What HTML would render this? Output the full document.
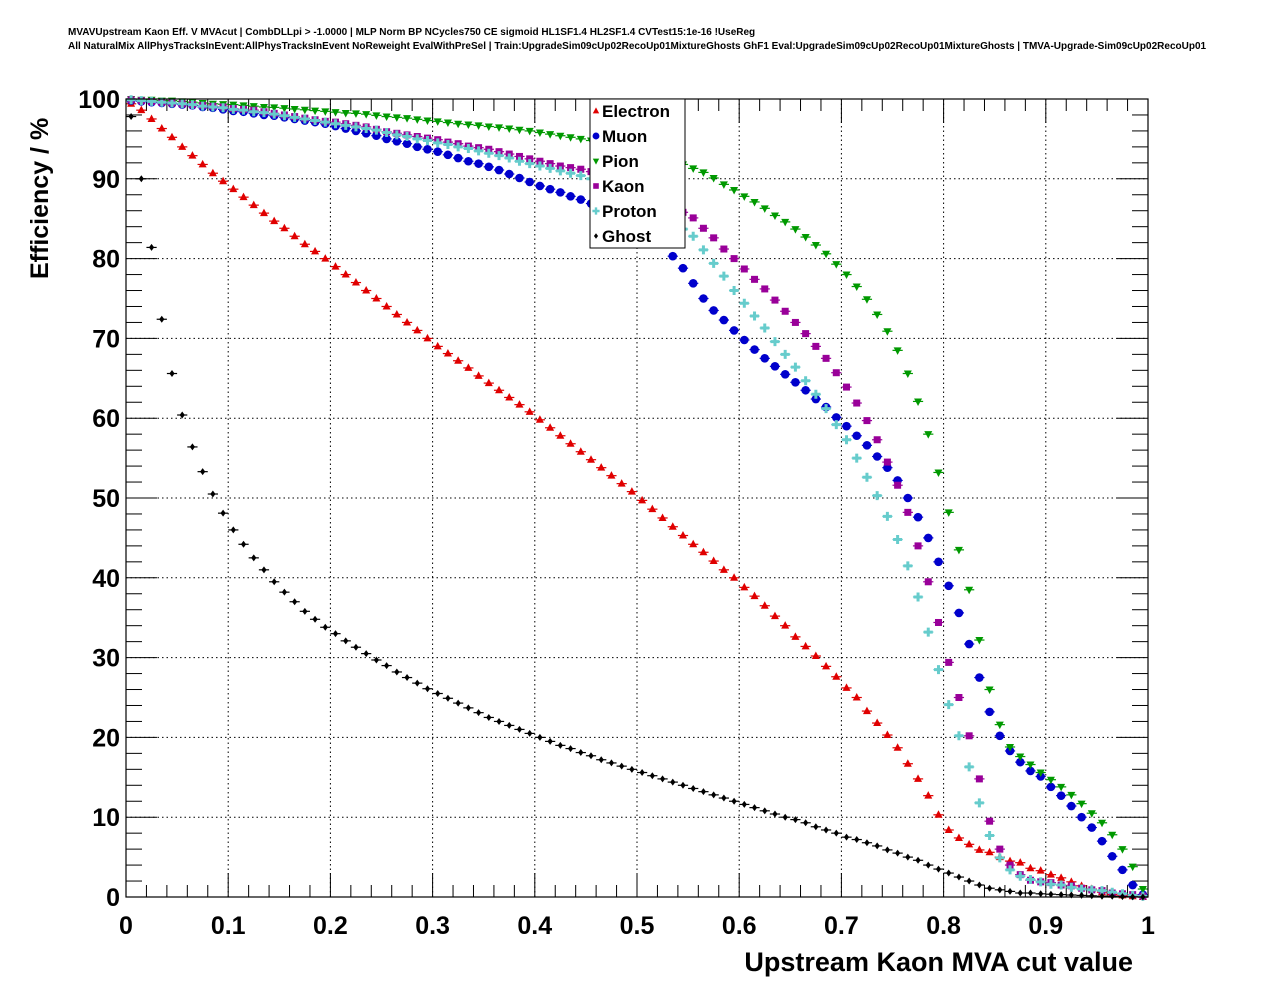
<!DOCTYPE html>
<html><head><meta charset="utf-8"><style>
body{margin:0;background:#fff;width:1276px;height:996px;overflow:hidden;font-family:"Liberation Sans",Arial,sans-serif}
svg text{font-family:"Liberation Sans",Arial,sans-serif}
</style></head><body>
<svg id="chart" width="1276" height="996" xmlns="http://www.w3.org/2000/svg">
<text x="68" y="35" font-size="10" font-weight="bold">MVAVUpstream Kaon Eff. V MVAcut | CombDLLpi &gt; -1.0000 | MLP Norm BP NCycles750 CE sigmoid HL1SF1.4 HL2SF1.4 CVTest15:1e-16 !UseReg</text>
<text x="68" y="49" font-size="10" font-weight="bold">All NaturalMix AllPhysTracksInEvent:AllPhysTracksInEvent NoReweight EvalWithPreSel | Train:UpgradeSim09cUp02RecoUp01MixtureGhosts GhF1 Eval:UpgradeSim09cUp02RecoUp01MixtureGhosts | TMVA-Upgrade-Sim09cUp02RecoUp01</text>
<g id="grid"></g>
<g id="ticks"></g>
<g id="marks"></g>
<rect x="126" y="99" width="1022" height="798" fill="none" stroke="#000" stroke-width="1.2"/>
<text x="1133" y="971" font-size="27" font-weight="bold" text-anchor="end">Upstream Kaon MVA cut value</text>
<text transform="translate(48,279) rotate(-90)" font-size="25" font-weight="bold">Efficiency / %</text>
<g id="legend">
<rect x="590" y="99" width="95" height="149" fill="#fff" stroke="#000" stroke-width="1"/>
</g>
</svg>
<script>
const xTicks=[0,0.1,0.2,0.3,0.4,0.5,0.6,0.7,0.8,0.9,1];
const xTickLabels=["0","0.1","0.2","0.3","0.4","0.5","0.6","0.7","0.8","0.9","1"];
const yTicks=[0,10,20,30,40,50,60,70,80,90,100];
const yTickLabels=["0","10","20","30","40","50","60","70","80","90","100"];
const seriesNames=["Electron","Muon","Pion","Kaon","Proton","Ghost"];
const electron=[99.4,98.6,97.5,96.3,95.2,94.0,92.9,91.8,90.7,89.7,
88.7,87.7,86.7,85.7,84.7,83.8,82.8,81.8,80.9,80.0,
79.0,78.0,77.0,76.0,75.0,74.0,73.0,72.0,71.0,70.0,
69.0,68.1,67.2,66.3,65.3,64.4,63.5,62.6,61.7,60.8,
59.8,58.8,57.8,56.8,55.8,54.8,53.8,52.8,51.8,50.8,
49.7,48.6,47.5,46.4,45.3,44.2,43.2,42.1,41.0,40.0,
38.8,37.7,36.5,35.2,34.0,32.6,31.4,30.2,28.9,27.6,
26.2,25.0,23.3,21.8,20.3,18.7,16.7,14.8,12.7,10.3,
8.4,7.4,6.6,5.9,5.6,5.0,4.5,4.3,3.6,3.3,
2.8,2.4,1.9,1.4,1.0,0.6,0.3,0.2,0.1,0.0];
const muon=[99.8,99.7,99.6,99.5,99.4,99.3,99.2,99.0,98.9,98.7,
98.5,98.4,98.2,98.0,97.9,97.7,97.5,97.3,97.1,96.9,
96.6,96.3,96.0,95.7,95.4,95.0,94.7,94.4,94.0,93.7,
93.4,93.0,92.6,92.2,91.9,91.5,91.1,90.6,90.1,89.6,
89.1,88.7,88.3,87.8,87.4,86.9,86.4,85.8,85.2,84.5,
83.8,83.0,82.1,80.3,78.8,76.9,75.0,73.5,72.3,71.0,
69.8,68.6,67.5,66.5,65.5,64.5,63.5,62.4,61.4,60.1,
59.0,57.8,56.6,55.2,53.8,52.2,50.0,47.6,45.0,42.0,
39.0,35.6,31.7,27.5,23.2,20.2,18.3,16.9,15.8,15.1,
13.8,12.7,11.4,10.0,8.7,7.0,5.1,3.4,1.5,0.3];
const pion=[100,99.9,99.9,99.8,99.8,99.7,99.6,99.5,99.4,99.35,
99.3,99.2,99.1,99.0,98.95,98.85,98.75,98.65,98.55,98.45,
98.35,98.25,98.2,98.1,97.95,97.8,97.7,97.6,97.45,97.3,
97.2,97.05,96.9,96.8,96.7,96.55,96.45,96.3,96.15,96.0,
95.8,95.6,95.4,95.2,95.0,94.8,94.6,94.4,94.2,94.0,
93.7,93.3,92.9,92.4,91.8,91.3,90.8,90.1,89.3,88.6,
87.8,87.1,86.3,85.4,84.6,83.7,82.7,81.7,80.6,79.3,
78.0,76.5,74.9,73.0,70.9,68.5,65.6,62.1,58.0,53.2,
48.2,43.5,38.5,32.2,26.0,21.6,18.8,17.6,16.6,15.6,
14.7,13.8,12.8,11.7,10.5,9.3,7.8,6.0,3.8,1.0];
const kaon=[99.9,99.8,99.7,99.6,99.5,99.4,99.3,99.2,99.1,99.0,
98.8,98.7,98.6,98.4,98.2,98.0,97.8,97.6,97.4,97.2,
97.1,96.9,96.7,96.5,96.2,95.9,95.7,95.5,95.3,95.1,
94.9,94.6,94.4,94.1,93.9,93.7,93.4,93.1,92.8,92.5,
92.2,91.9,91.6,91.4,91.2,90.9,90.5,90.1,89.6,89.1,
88.5,87.9,87.2,86.5,85.8,85.1,83.8,82.6,81.2,80.0,
78.7,77.4,76.2,74.8,73.4,72.0,70.6,69.0,67.5,65.7,
63.9,61.9,59.7,57.3,54.5,51.6,48.2,44.0,39.5,34.4,
29.4,25.0,20.2,14.8,9.5,6.0,4.0,2.8,2.1,1.9,
1.8,1.5,1.4,1.1,0.9,0.8,0.5,0.4,0.3,0.1];
const proton=[99.9,99.8,99.7,99.6,99.5,99.4,99.3,99.1,99.0,98.9,
98.7,98.6,98.4,98.3,98.1,97.9,97.7,97.5,97.3,97.1,
96.9,96.7,96.5,96.3,96.1,95.8,95.5,95.3,95.0,94.8,
94.5,94.3,94.0,93.8,93.5,93.2,92.9,92.6,92.2,91.9,
91.6,91.3,91.0,90.7,90.4,90.0,89.6,89.1,88.5,87.9,
87.1,86.3,85.5,84.6,83.7,82.8,81.1,79.4,77.8,76.0,
74.4,72.8,71.3,69.6,68.0,66.4,64.7,63.0,61.2,59.2,
57.3,55.0,52.6,50.3,47.7,44.8,41.5,37.6,33.2,28.5,
24.1,20.2,16.3,11.8,7.7,4.9,3.4,2.6,2.2,1.9,
1.6,1.5,1.2,1.0,0.9,0.8,0.6,0.4,0.2,0.1];
const ghost=[97.8,90.0,81.4,72.4,65.6,60.4,56.4,53.3,50.5,48.1,
46.0,44.2,42.5,41.0,39.5,38.2,37.0,35.8,34.8,33.8,
33.0,32.1,31.3,30.5,29.7,29.0,28.2,27.5,26.8,26.1,
25.5,24.9,24.3,23.7,23.1,22.5,22.0,21.5,21.0,20.5,
20.0,19.5,19.0,18.6,18.1,17.7,17.2,16.8,16.4,16.0,
15.6,15.2,14.8,14.4,14.0,13.6,13.2,12.8,12.4,12.0,
11.6,11.2,10.8,10.4,10.0,9.7,9.3,8.8,8.4,8.0,
7.5,7.2,6.8,6.4,5.9,5.5,5.0,4.6,4.0,3.5,
3.0,2.5,2.0,1.5,1.1,0.9,0.7,0.5,0.5,0.4,
0.35,0.3,0.25,0.2,0.15,0.1,0.1,0.05,0.02,0.0];

const NS='http://www.w3.org/2000/svg';
const X0=126,X1=1148,Y0=897,Y1=99;
const xs=v=>X0+(X1-X0)*v;
const ys=v=>Y0-(Y0-Y1)*v/100;
function mk(tag,attrs,parent){const e=document.createElementNS(NS,tag);for(const k in attrs)e.setAttribute(k,attrs[k]);parent.appendChild(e);return e;}
const grid=document.getElementById('grid'),ticks=document.getElementById('ticks'),marks=document.getElementById('marks'),legend=document.getElementById('legend'),svg=document.getElementById('chart');

xTicks.forEach((t,i)=>{
  if(i>0&&i<xTicks.length-1){const g=mk('line',{x1:xs(t),x2:xs(t),y1:Y0,y2:Y1,stroke:'#000','stroke-dasharray':'1.5,3','stroke-width':1},grid);
  
  }
  const tl=mk('text',{x:xs(t),y:934,'font-size':25,'font-weight':'bold','text-anchor':'middle'},svg);
  
  
  tl.textContent=xTickLabels[i];
});
yTicks.forEach((t,i)=>{
  if(i>0&&i<yTicks.length-1){const g=mk('line',{x1:X0,x2:X1,y1:ys(t),y2:ys(t),stroke:'#000','stroke-dasharray':'1.5,3','stroke-width':1},grid);
  
  }
  const tl=mk('text',{x:120,y:ys(t)+9,'font-size':25,'font-weight':'bold','text-anchor':'end'},svg);
  
  
  tl.textContent=yTickLabels[i];
});
for(let k=0;k<=50;k++){const v=k/50,L=(k%5===0)?24:12;
  mk('line',{x1:xs(v),x2:xs(v),y1:Y0,y2:Y0-L,stroke:'#000'},ticks);
  mk('line',{x1:xs(v),x2:xs(v),y1:Y1,y2:Y1+L,stroke:'#000'},ticks);}
for(let k=0;k<=50;k++){const v=k*2,L=(k%5===0)?31:16;
  mk('line',{x1:X0,x2:X0+L,y1:ys(v),y2:ys(v),stroke:'#000'},ticks);
  mk('line',{x1:X1,x2:X1-L,y1:ys(v),y2:ys(v),stroke:'#000'},ticks);}

const colors=['#e00000','#0000cc','#009900','#990099','#66cccc','#000000'];
function marker(type,cx,cy,col,parent){
  if(type===0)return mk('polygon',{points:`${cx},${cy-4.5} ${cx-4},${cy+3} ${cx+4},${cy+3}`,fill:col},parent);
  if(type===1)return mk('circle',{cx:cx,cy:cy,r:4.3,fill:col},parent);
  if(type===2)return mk('polygon',{points:`${cx},${cy+4.5} ${cx-4},${cy-3} ${cx+4},${cy-3}`,fill:col},parent);
  if(type===3)return mk('rect',{x:cx-3.5,y:cy-3.5,width:7,height:7,fill:col},parent);
  if(type===4)return mk('path',{d:`M${cx-1.5},${cy-4.5}h3v3h3v3h-3v3h-3v-3h-3v-3h3z`,fill:col},parent);
  return mk('polygon',{points:`${cx},${cy-3.5} ${cx-2.6},${cy} ${cx},${cy+3.5} ${cx+2.6},${cy}`,fill:col},parent);
}
const allSeries=[electron,muon,pion,kaon,proton,ghost];
const seriesKeys=['electron','muon','pion','kaon','proton','ghost'];
allSeries.forEach((arr,s)=>{
  const g=mk('g',{},marks);
  
  
  arr.forEach((v,i)=>{
    const xc=xs((i+0.5)/arr.length),yc=ys(v);
    mk('line',{x1:xs(i/arr.length),x2:xs((i+1)/arr.length),y1:yc,y2:yc,stroke:colors[s],'stroke-width':1.2},g);
    const p=marker(s,xc,yc,colors[s],g);
    
    
  });
});
seriesNames.forEach((n,s)=>{
  const yy=111+25*s;
  const m=marker(s,596,yy,colors[s],legend);
  m.setAttribute('transform',`translate(596,${yy}) scale(0.8) translate(-596,${-yy})`);
  const t=mk('text',{x:602,y:yy+6,'font-size':17,'font-weight':'bold'},legend);
  
  
  t.textContent=n;
});
</script>
</body></html>
